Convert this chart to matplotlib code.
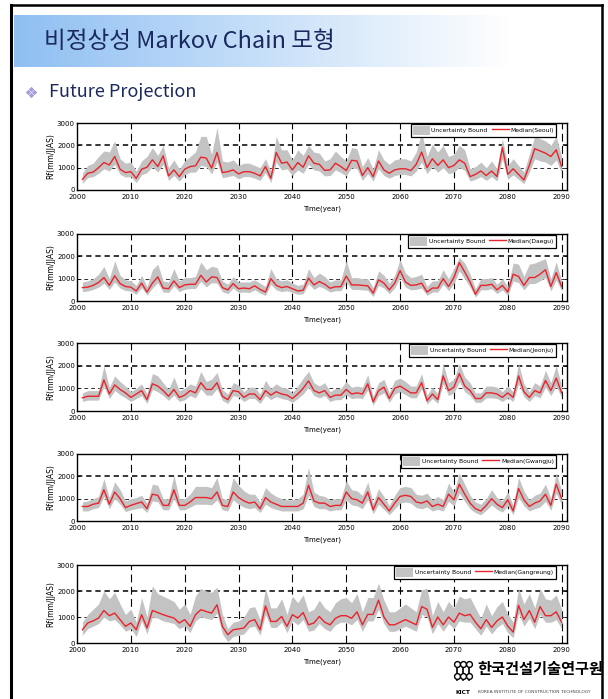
import numpy as np
import matplotlib.pyplot as plt
from matplotlib.lines import Line2D
from matplotlib.patches import Patch

plt.rcParams['font.family'] = ['DejaVu Sans']
KR = ['Noto Sans CJK KR', 'DejaVu Sans']

years = np.arange(2001, 2091)

# JJAS rainfall (mm), median and uncertainty bounds per station
seoul_median = [480, 750, 800, 1000, 1230, 1120, 1500, 930, 780, 820,
                520, 930, 1020, 1350, 1050, 1530, 630, 900, 600, 930,
                1050, 1080, 1470, 1430, 980, 1680, 780, 820, 900, 720,
                820, 820, 750, 630, 1050, 520, 1680, 1200, 1250, 900,
                1230, 1020, 1530, 1200, 1150, 880, 900, 1200, 1050, 870,
                1330, 1300, 650, 1000, 600, 1300, 900, 750, 900, 950,
                950, 870, 1150, 1700, 1000, 1400, 1100, 1350, 1000, 1100,
                1350, 1200, 600, 700, 850, 650, 850, 600, 1900, 700,
                950, 700, 450, 1100, 1850, 1750, 1650, 1500, 1800, 1050]
seoul_upper = [750, 1100, 1200, 1500, 1750, 1700, 2200, 1400, 1200, 1250,
               850, 1300, 1500, 1900, 1550, 2000, 1000, 1350, 950, 1300,
               1500, 1700, 2400, 2400, 1600, 2800, 1300, 1250, 1350, 1100,
               1200, 1200, 1100, 1000, 1400, 850, 2400, 1800, 1800, 1350,
               1800, 1550, 2000, 1700, 1650, 1300, 1400, 1750, 1500, 1300,
               1900, 1850, 1050, 1450, 950, 1800, 1350, 1150, 1350, 1400,
               1400, 1300, 1700, 2600, 1500, 2050, 1700, 2000, 1500, 1600,
               2000, 1800, 950, 1050, 1250, 1000, 1300, 950, 2300, 1100,
               1400, 1100, 800, 1600, 2400, 2300, 2200, 2000, 2400, 1500]
seoul_lower = [300, 550, 600, 750, 950, 850, 1150, 700, 580, 600,
               330, 680, 780, 1050, 800, 1150, 430, 650, 400, 680,
               800, 800, 1100, 1050, 720, 1250, 550, 600, 650, 500,
               600, 600, 530, 430, 780, 330, 1250, 900, 950, 650,
               900, 750, 1150, 900, 850, 630, 650, 900, 780, 630,
               1000, 950, 430, 730, 400, 950, 650, 530, 650, 700,
               700, 630, 850, 1250, 730, 1050, 800, 1000, 730, 800,
               1000, 880, 400, 480, 600, 430, 600, 400, 1400, 480,
               680, 480, 280, 800, 1400, 1300, 1250, 1100, 1350, 750]

daegu_median = [600, 620, 700, 830, 1050, 700, 1130, 780, 650, 620,
                450, 800, 400, 800, 1080, 580, 550, 900, 600, 720,
                750, 750, 1150, 850, 1080, 1050, 600, 500, 780, 550,
                580, 550, 680, 520, 400, 1000, 700, 600, 650, 550,
                450, 480, 1020, 720, 870, 750, 570, 640, 640, 1120,
                720, 720, 700, 680, 350, 950, 800, 500, 800, 1360,
                850, 700, 720, 800, 400, 580, 580, 1000, 650, 1050,
                1720, 1300, 850, 300, 700, 700, 750, 500, 700, 400,
                1200, 1100, 700, 1050, 1050, 1200, 1400, 650, 1270, 650]
daegu_upper = [850, 900, 1000, 1200, 1550, 1000, 1800, 1150, 950, 900,
               700, 1150, 650, 1400, 1650, 900, 850, 1450, 900, 1050,
               1050, 1100, 1750, 1400, 1550, 1500, 900, 750, 1100, 850,
               850, 850, 950, 800, 650, 1450, 1000, 900, 950, 800,
               700, 750, 1450, 1050, 1250, 1100, 850, 950, 950, 1800,
               1050, 1050, 1000, 1000, 600, 1350, 1150, 800, 1150, 1850,
               1250, 1050, 1100, 1200, 650, 900, 900, 1400, 1000, 1450,
               1950, 1700, 1200, 550, 1000, 1000, 1050, 750, 1000, 650,
               1700, 1650, 1100, 1650, 1700, 1800, 1900, 1000, 1750, 900]
daegu_lower = [420, 450, 520, 620, 800, 520, 850, 580, 470, 440,
               300, 600, 260, 580, 820, 400, 380, 680, 420, 530,
               560, 560, 880, 630, 820, 800, 420, 330, 580, 380,
               400, 380, 500, 350, 250, 750, 500, 420, 460, 380,
               300, 320, 780, 520, 650, 550, 400, 460, 460, 850,
               520, 520, 500, 480, 200, 700, 580, 330, 580, 1050,
               620, 500, 520, 580, 250, 400, 400, 750, 460, 780,
               1350, 1000, 620, 170, 500, 500, 550, 330, 500, 250,
               900, 820, 500, 780, 780, 900, 1050, 450, 950, 450]

jeonju_median = [580, 650, 650, 650, 1370, 750, 1150, 950, 800, 600,
                 750, 900, 500, 1200, 1100, 900, 650, 950, 600, 700,
                 900, 800, 1250, 950, 950, 1250, 650, 500, 900, 850,
                 600, 750, 750, 500, 900, 700, 850, 750, 700, 550,
                 750, 1000, 1330, 900, 800, 900, 600, 700, 700, 950,
                 750, 800, 750, 1200, 400, 900, 1050, 550, 1000, 1100,
                 950, 800, 800, 1250, 450, 750, 500, 1550, 900, 1050,
                 1650, 1100, 900, 550, 550, 800, 800, 750, 600, 800,
                 600, 1550, 850, 600, 900, 800, 1350, 900, 1450, 800]
jeonju_upper = [800, 900, 900, 900, 2000, 1050, 1550, 1300, 1100, 850,
                1000, 1200, 750, 1650, 1550, 1250, 950, 1500, 900, 1000,
                1200, 1100, 1750, 1300, 1400, 1700, 950, 750, 1250, 1150,
                850, 1050, 1050, 750, 1350, 1000, 1200, 1050, 1000, 800,
                1100, 1450, 1750, 1250, 1100, 1250, 850, 1000, 1000, 1300,
                1050, 1100, 1050, 1600, 650, 1250, 1400, 800, 1350, 1450,
                1300, 1100, 1100, 1650, 700, 1050, 750, 2100, 1250, 1400,
                2100, 1500, 1250, 800, 800, 1100, 1100, 1050, 850, 1100,
                850, 2100, 1200, 850, 1250, 1100, 1800, 1250, 2000, 1100]
jeonju_lower = [420, 480, 480, 480, 1100, 550, 900, 720, 580, 420,
                550, 680, 330, 950, 850, 680, 470, 700, 420, 500,
                680, 580, 980, 700, 700, 980, 470, 330, 680, 620,
                420, 550, 550, 330, 680, 500, 630, 550, 500, 380,
                550, 750, 1050, 680, 580, 680, 420, 500, 500, 720,
                550, 580, 550, 930, 250, 680, 800, 380, 750, 850,
                720, 580, 580, 980, 300, 550, 330, 1200, 680, 800,
                1300, 850, 680, 380, 380, 580, 580, 550, 420, 580,
                420, 1200, 630, 420, 680, 580, 1050, 680, 1100, 580]

gwangju_median = [650, 650, 750, 800, 1400, 750, 1300, 1000, 600, 700,
                  780, 850, 550, 1200, 1150, 700, 700, 1400, 700, 700,
                  850, 1050, 1050, 1050, 1000, 1300, 700, 650, 1300, 1050,
                  900, 800, 850, 550, 1050, 850, 750, 650, 650, 650,
                  650, 800, 1600, 900, 800, 800, 650, 700, 700, 1300,
                  1000, 950, 800, 1300, 500, 1050, 750, 450, 800, 1100,
                  1150, 1100, 850, 800, 900, 650, 750, 650, 1200, 950,
                  1650, 1200, 800, 550, 450, 700, 1000, 750, 600, 950,
                  450, 1450, 950, 650, 800, 900, 1200, 700, 1650, 1000]
gwangju_upper = [850, 900, 1000, 1100, 1900, 1050, 1750, 1400, 900, 1000,
                 1050, 1150, 800, 1650, 1600, 1000, 1000, 2050, 1000, 1000,
                 1200, 1550, 1550, 1550, 1500, 1950, 1000, 950, 1950, 1600,
                 1350, 1200, 1200, 850, 1500, 1250, 1100, 1000, 950, 950,
                 1000, 1200, 2400, 1300, 1150, 1100, 950, 1000, 1000, 1800,
                 1400, 1350, 1150, 1750, 800, 1450, 1100, 700, 1150, 1500,
                 1550, 1500, 1200, 1150, 1250, 950, 1100, 950, 1700, 1300,
                 2150, 1650, 1150, 850, 750, 1000, 1400, 1050, 900, 1300,
                 700, 1950, 1350, 950, 1150, 1250, 1650, 1000, 2150, 1350]
gwangju_lower = [450, 450, 550, 600, 1100, 550, 1000, 750, 420, 500,
                 550, 600, 380, 900, 850, 500, 500, 1000, 500, 500,
                 620, 750, 750, 750, 720, 950, 500, 450, 950, 750,
                 620, 550, 600, 380, 750, 600, 520, 450, 450, 450,
                 450, 550, 1150, 650, 550, 550, 450, 500, 500, 950,
                 720, 680, 550, 950, 320, 750, 520, 280, 550, 800,
                 850, 800, 600, 550, 630, 450, 520, 450, 880, 680,
                 1250, 880, 550, 370, 280, 480, 720, 520, 400, 680,
                 280, 1050, 680, 450, 550, 630, 880, 480, 1250, 720]

gangreung_median = [510, 770, 850, 960, 1250, 1050, 1150, 900, 640, 770,
                    510, 1090, 580, 1250, 1170, 1090, 1020, 960, 770, 900,
                    640, 1090, 1280, 1210, 1150, 1470, 640, 320, 510, 540,
                    580, 830, 900, 510, 1430, 830, 830, 1020, 640, 1090,
                    960, 1170, 700, 770, 1020, 800, 700, 950, 1050, 1050,
                    950, 1200, 700, 1100, 1100, 1650, 1000, 700, 700, 800,
                    900, 800, 700, 1400, 1300, 600, 1000, 700, 1000, 800,
                    1150, 1050, 1100, 800, 550, 900, 600, 850, 1000, 650,
                    420, 1450, 900, 1250, 800, 1400, 1050, 1050, 1200, 800]
gangreung_upper = [800, 1100, 1300, 1500, 2000, 1700, 1950, 1500, 1100, 1300,
                   800, 1750, 1000, 2200, 1900, 1800, 1700, 1600, 1300, 1500,
                   1100, 1800, 2100, 2000, 1950, 2150, 1100, 550, 800, 850,
                   1000, 1350, 1400, 900, 2100, 1350, 1350, 1700, 1100, 1800,
                   1550, 1850, 1200, 1300, 1650, 1350, 1200, 1550, 1700, 1750,
                   1550, 1900, 1200, 1750, 1750, 2300, 1650, 1200, 1200, 1350,
                   1500, 1350, 1200, 2050, 2100, 1050, 1600, 1200, 1600, 1350,
                   1800, 1700, 1750, 1350, 950, 1500, 1050, 1400, 1600, 1100,
                   800, 2100, 1500, 1900, 1350, 2100, 1700, 1650, 1850, 1300]
gangreung_lower = [300, 550, 650, 750, 1000, 850, 900, 700, 450, 550,
                   250, 850, 350, 1000, 950, 850, 800, 750, 550, 650,
                   400, 850, 1000, 950, 900, 1150, 350, 50, 250, 300,
                   350, 600, 650, 300, 1100, 600, 600, 800, 400, 850,
                   700, 900, 450, 500, 750, 550, 450, 700, 800, 800,
                   700, 900, 450, 850, 850, 1300, 750, 450, 450, 550,
                   650, 550, 450, 1100, 1000, 350, 750, 450, 750, 550,
                   850, 800, 800, 550, 300, 650, 350, 600, 750, 400,
                   200, 1150, 650, 950, 550, 1100, 800, 800, 900, 550]

stations = ["Seoul", "Daegu", "Jeonju", "Gwangju", "Gangreung"]
series = [
    (seoul_median, seoul_lower, seoul_upper),
    (daegu_median, daegu_lower, daegu_upper),
    (jeonju_median, jeonju_lower, jeonju_upper),
    (gwangju_median, gwangju_lower, gwangju_upper),
    (gangreung_median, gangreung_lower, gangreung_upper),
]

W, H = 608, 699
fig = plt.figure(figsize=(W / 100, H / 100), dpi=100)
fig.patch.set_facecolor("white")

# slide decoration layer in pixel coordinates
bg = fig.add_axes([0, 0, 1, 1])
bg.set_xlim(0, W)
bg.set_ylim(H, 0)
bg.axis("off")

# title bar: light blue fading to white
left_c = np.array([0.56, 0.75, 0.95])
t = np.linspace(0, 1, 256)[:, None]
grad = left_c * (1 - t) + np.array([1.0, 1.0, 1.0]) * t
bg.imshow(grad[None, :, :], extent=(14, 510, 67, 15), aspect="auto", zorder=1)

# slide frame
bg.plot([11, 11], [5, H], color="black", lw=2.2, zorder=2)
bg.plot([11, 602], [5, 5], color="black", lw=1.8, zorder=2)
bg.plot([602, 602], [5, H], color="black", lw=1.8, zorder=2)

bg.text(44, 41, "비정상성 Markov Chain 모형", family=KR, fontsize=17,
        color="#1b2a5e", va="center", ha="left", zorder=3)

# diamond bullet
for dx, dy in [(0, -3.3), (-3.3, 0), (3.3, 0), (0, 3.3)]:
    bg.plot(31 + dx, 92 + dy, marker="D", ms=2.3, color="#a59ee0",
            mec="#8c84d0", mew=0.3, zorder=3)
bg.text(49, 92, "Future Projection", family=KR, fontsize=13,
        color="#1b2a5e", va="center", ha="left", zorder=3)

# logo
for lx in [457, 463, 469]:
    bg.plot([lx, lx], [667, 680], color="black", lw=1.2, zorder=3)
    bg.plot(lx, 664, marker="o", ms=4.2, mfc="white", mec="black", mew=1.0, zorder=3)
    bg.plot(lx, 676, marker="o", ms=4.2, mfc="white", mec="black", mew=1.0, zorder=3)
bg.text(477, 669, "한국건설기술연구원", family=KR, fontsize=11, fontweight="bold",
        color="black", va="center", ha="left", zorder=3)
bg.text(463, 692, "KICT", fontsize=4.2, fontweight="bold", color="black",
        va="center", ha="center", zorder=3)
bg.text(478, 692, "KOREA INSTITUTE OF CONSTRUCTION TECHNOLOGY", fontsize=3.2,
        color="#444444", va="center", ha="left", zorder=3)

# panel rows (top, bottom) in pixels
rows = [(123, 190), (234, 301), (343, 411), (454, 521), (565, 643)]
ax_left, ax_right = 77, 567
band_color = "#c3c3c3"
line_color = "#e8242c"

for (top, bottom), name, (med, lo, up) in zip(rows, stations, series):
    ax = fig.add_axes([ax_left / W, 1 - bottom / H,
                       (ax_right - ax_left) / W, (bottom - top) / H])
    ax.set_xlim(2000, 2091)
    ax.set_ylim(0, 3000)

    for yr in range(2010, 2091, 10):
        ax.axvline(yr, color="black", lw=0.8, ls=(0, (7, 4)), zorder=1)
    ax.axhline(2000, color="black", lw=1.1, ls=(0, (3.5, 2.5)), zorder=1)
    ax.axhline(1000, color="#333333", lw=0.7, ls=(0, (4, 3)), zorder=1)

    ax.fill_between(years, lo, up, color=band_color, lw=0, zorder=2)
    ax.plot(years, med, color=line_color, lw=1.0, zorder=3)

    ax.set_xticks(range(2000, 2091, 10))
    ax.set_yticks([0, 1000, 2000, 3000])
    ax.tick_params(labelsize=5, direction="in", length=2, width=0.6,
                   top=True, right=True, pad=3)
    ax.tick_params(axis="y", pad=1.5)
    for s in ax.spines.values():
        s.set_linewidth(1.0)
        s.set_color("black")
    ax.set_xlabel("Time(year)", fontsize=5, labelpad=4)
    ax.set_ylabel("Rf(mm/JJAS)", fontsize=5.5, labelpad=1.5)

    handles = [Patch(facecolor=band_color, edgecolor="none"),
               Line2D([], [], color=line_color, lw=1.0)]
    leg = ax.legend(handles, ["Uncertainty Bound", "Median(%s)" % name],
                    loc="upper right", ncol=2, fontsize=4.3,
                    bbox_to_anchor=((556 - ax_left) / (ax_right - ax_left), 0.99),
                    borderaxespad=0, frameon=True, fancybox=False,
                    handlelength=2.8, handleheight=2.0, handletextpad=0.3,
                    columnspacing=0.7, borderpad=0.35)
    leg.get_frame().set_edgecolor("black")
    leg.get_frame().set_linewidth(0.9)
    leg.get_frame().set_alpha(1)
    leg.set_zorder(5)

fig.savefig("out.png", dpi=100, facecolor="white")
